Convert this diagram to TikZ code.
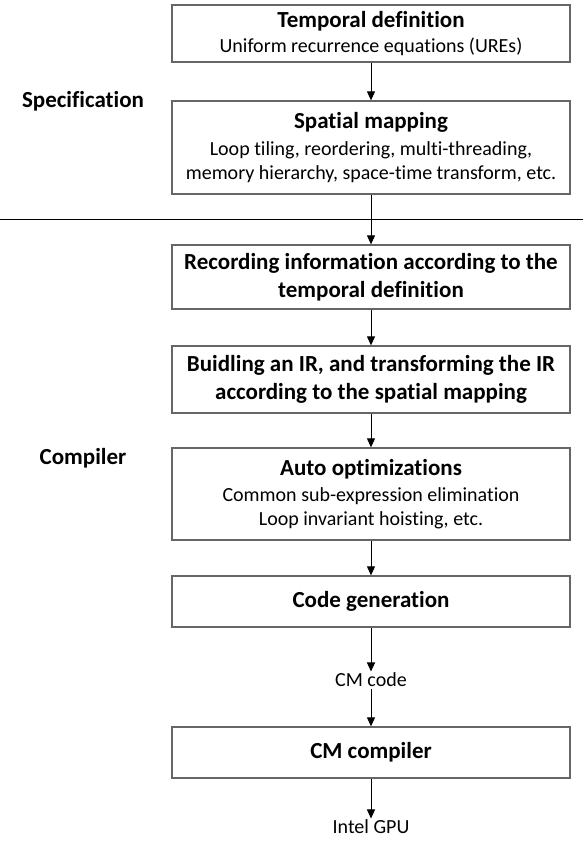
\documentclass[tikz,border=0pt]{standalone}
\usepackage{fontspec}
\setmainfont{Carlito}[Ligatures=NoCommon]
\usetikzlibrary{arrows.meta}
\definecolor{ink}{HTML}{000000}
\definecolor{frame}{HTML}{666666}

\begin{document}
\begin{tikzpicture}[
    x=1pt, y=-1pt,
    line width=1pt, >={Triangle[length=9pt,width=8pt]},
    color=ink,
    stage/.style={draw=frame, line width=1.3pt, minimum width=398pt, align=center,
      inner sep=0pt, font=\fontsize{20}{23.5}\selectfont},
    bold stage/.style={stage, font=\fontsize{23}{28}\selectfont\bfseries},
    part/.style={font=\fontsize{23}{26}\selectfont\bfseries},
    flow/.style={->, line width=1pt},
    plain/.style={font=\fontsize{20}{22}\selectfont, inner sep=1pt}]
  % fixed 583 x 849 canvas
  \path[use as bounding box] (0,0) rectangle (583,849);

  % ================= specification =================
  \node[part] (spec) at (83,101) {Specification};
  \node[stage, minimum height=57pt] (temporal) at (371,33.5)
    {\textbf{\fontsize{23}{24}\selectfont Temporal definition}\\[2pt]
     Uniform recurrence equations (UREs)};
  \node[stage, minimum height=93pt] (spatial) at (371,147.5)
    {\textbf{\fontsize{23}{27}\selectfont Spatial mapping}\\[3.5pt]
     Loop tiling, reordering, multi-threading,\\
     memory hierarchy, space-time transform, etc.};

  % split between the two parts
  \draw[line width=1pt] (0,219) -- (583,219);

  % ================= compiler =================
  \node[part] (comp) at (83,458) {Compiler};
  \node[bold stage, minimum height=64pt] (record) at (371,277)
    {Recording information according to the\\ temporal definition};
  \node[bold stage, minimum height=67pt] (buildir) at (371,379.5)
    {Buidling an IR, and transforming the IR\\ according to the spatial mapping};
  \node[stage, minimum height=92pt] (autoopt) at (371,494)
    {\textbf{\fontsize{23}{27}\selectfont Auto optimizations}\\[2.5pt]
     Common sub-expression elimination\\
     Loop invariant hoisting, etc.};
  \node[bold stage, minimum height=51pt] (codegen) at (371,601.5) {Code generation};
  \node[plain] (cmcode) at (371,680) {CM code};
  \node[bold stage, minimum height=51pt] (cmcomp) at (371,752.5) {CM compiler};
  \node[plain] (gpu) at (371,827) {Intel GPU};

  % ================= connectors =================
  \draw[flow] (temporal) -- (spatial);
  \draw[flow] (spatial) -- (record);
  \draw[flow] (record) -- (buildir);
  \draw[flow] (buildir) -- (autoopt);
  \draw[flow] (autoopt) -- (codegen);
  \draw[flow] (codegen) -- (cmcode);
  \draw[flow] (cmcode) -- (cmcomp);
  \draw[flow] (cmcomp) -- (gpu);
\end{tikzpicture}
\end{document}
